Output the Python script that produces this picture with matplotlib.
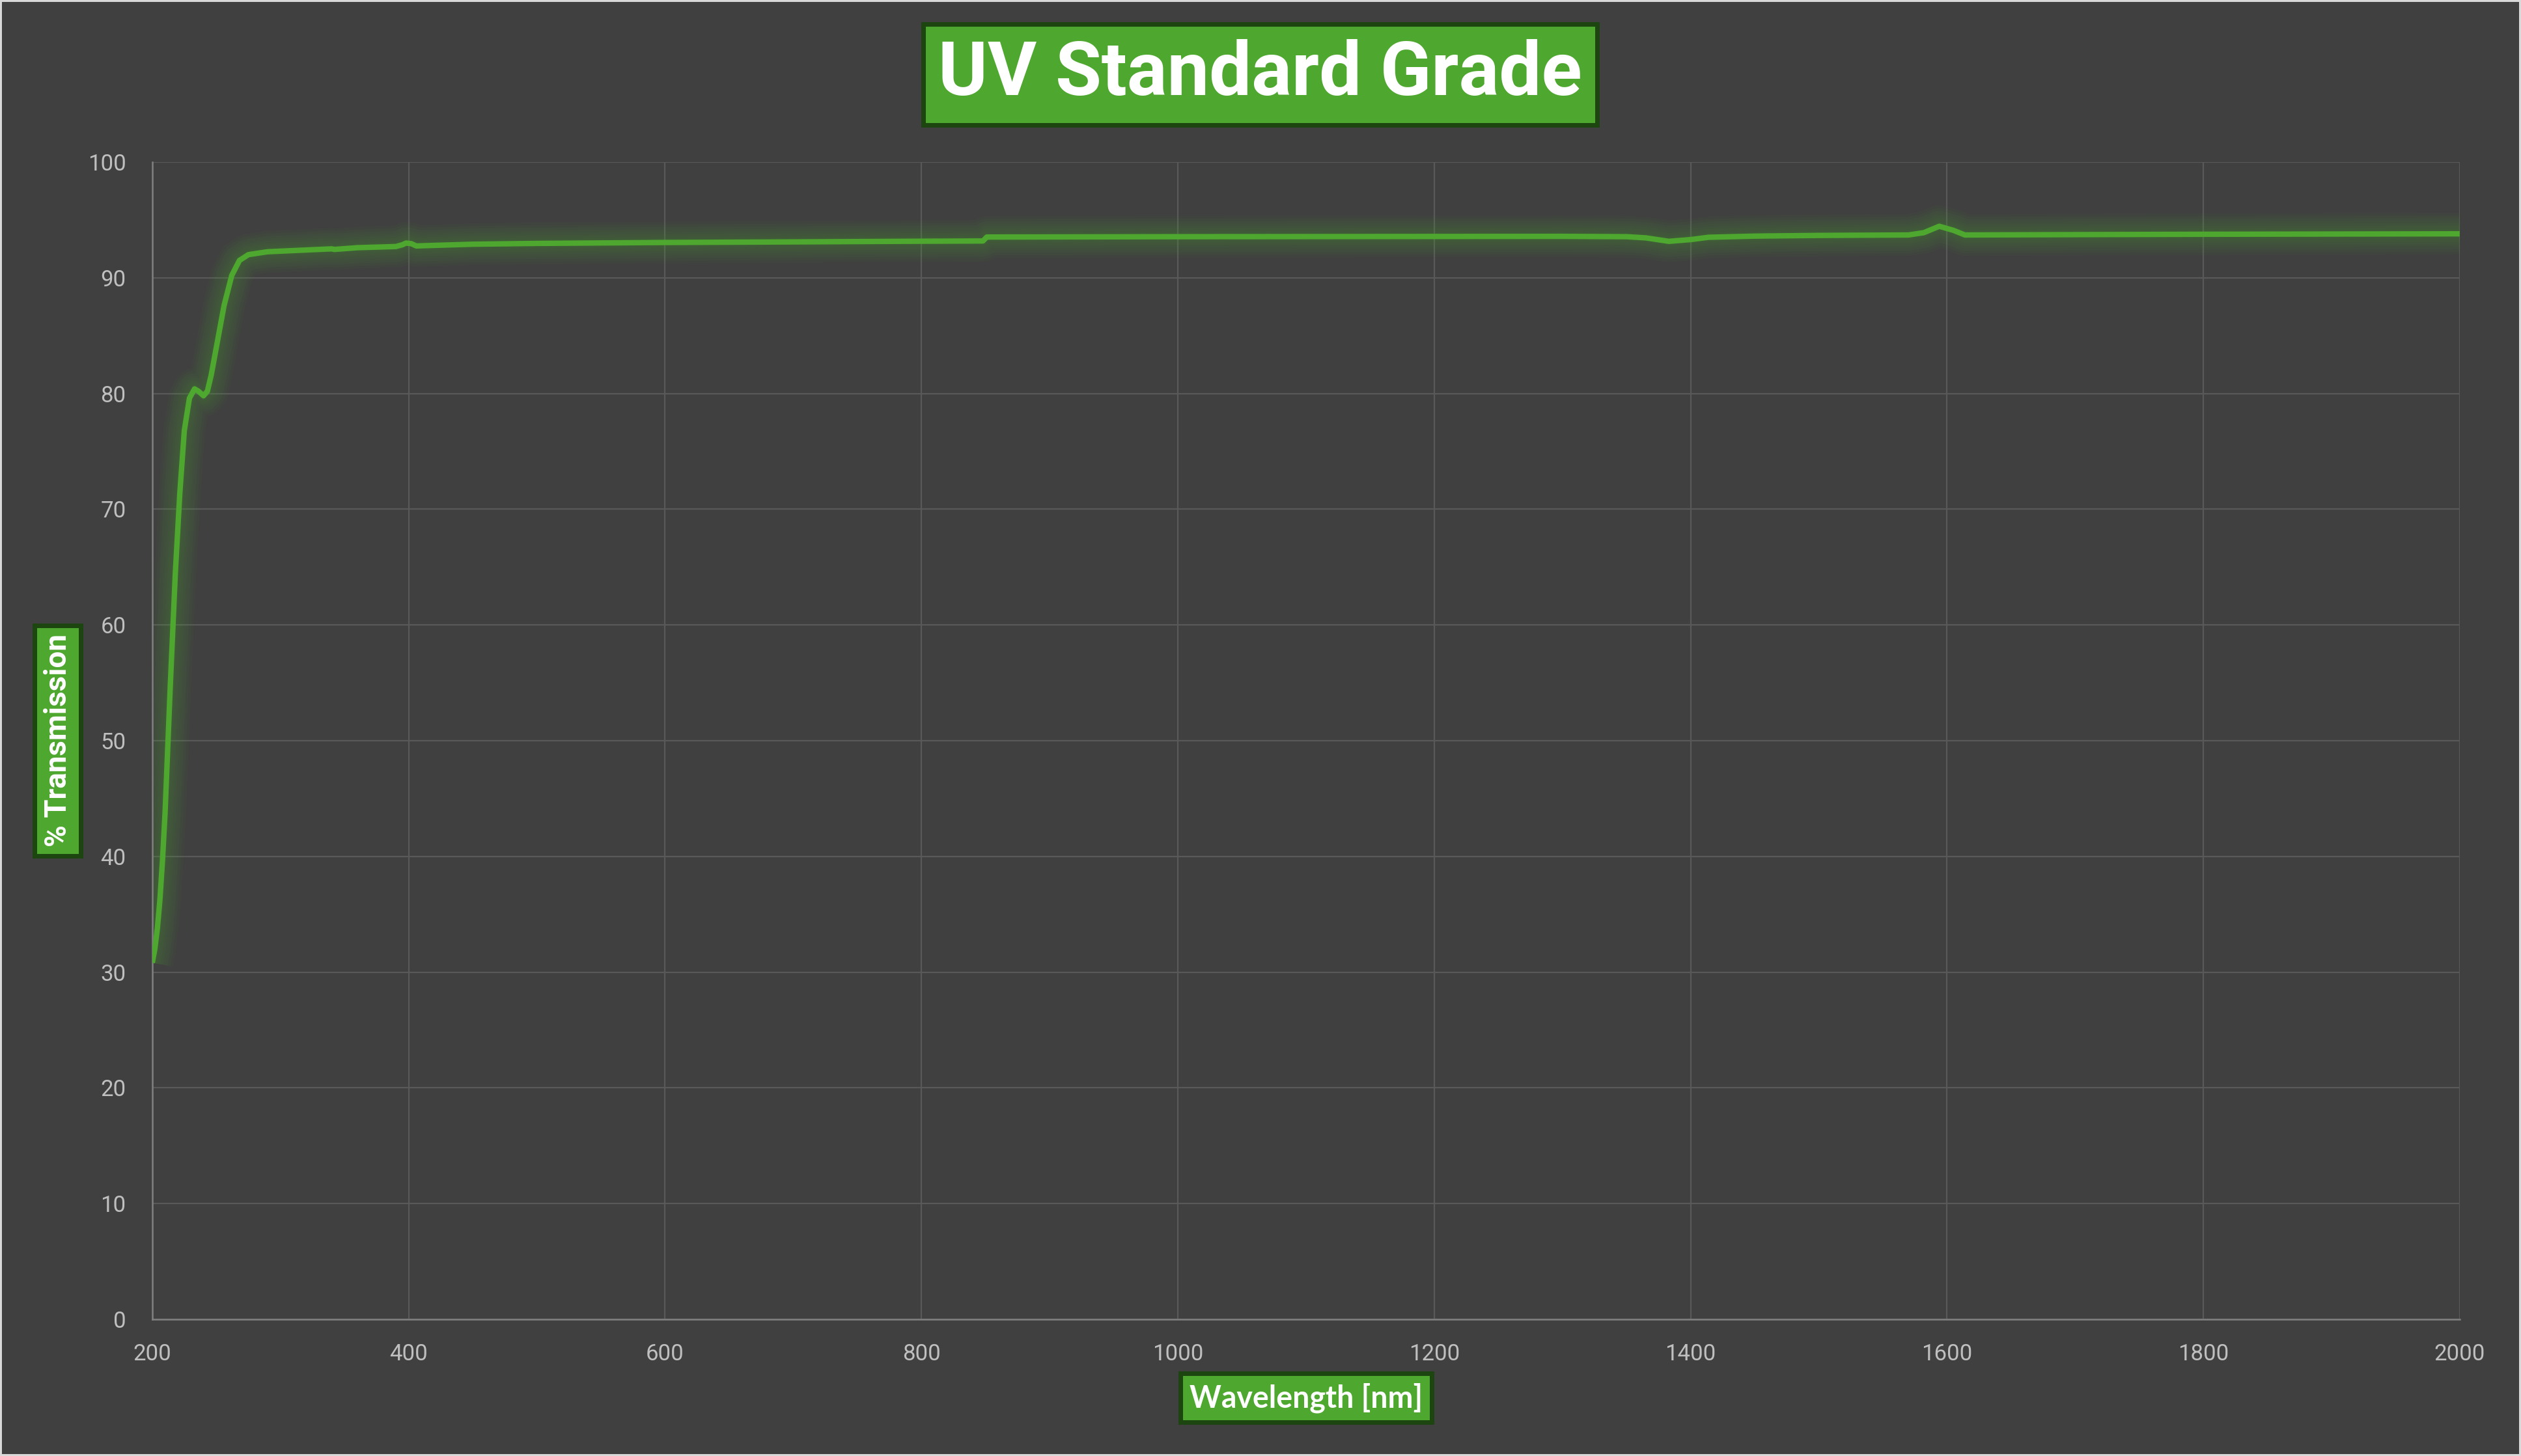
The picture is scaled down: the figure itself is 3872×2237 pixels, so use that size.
import matplotlib
matplotlib.use("Agg")
import matplotlib.pyplot as plt
from matplotlib.patches import Rectangle

# transmission curve (nm, %T)
wavelength = [200, 202, 204, 206, 208, 210, 214, 218, 221.5, 225, 229, 233, 236, 240, 243, 246,
              250, 256, 262, 268, 275, 290, 320, 340, 342, 360, 390, 395, 398, 402,
              406, 420, 450, 500, 600, 700, 800, 848, 851, 900, 1000, 1100, 1200,
              1300, 1350, 1365, 1383, 1400, 1414, 1450, 1500, 1570, 1582, 1594, 1605,
              1614, 1700, 1800, 1900, 2000]
transmission = [30.8, 32.0, 33.8, 36.3, 39.7, 43.8, 54.6, 64.5, 71.4, 76.8, 79.6, 80.4, 80.2, 79.8, 80.2, 81.6,
                84.0, 87.6, 90.2, 91.5, 92.0, 92.25, 92.4, 92.5, 92.45, 92.6, 92.7, 92.85, 93.0, 92.95,
                92.75, 92.8, 92.9, 92.97, 93.05, 93.1, 93.16, 93.18, 93.52, 93.53, 93.55, 93.56, 93.57,
                93.58, 93.55, 93.45, 93.15, 93.3, 93.5, 93.6, 93.66, 93.7, 93.9, 94.45, 94.1,
                93.7, 93.73, 93.76, 93.78, 93.8]

x_ticks = [200, 400, 600, 800, 1000, 1200, 1400, 1600, 1800, 2000]
y_ticks = [0, 10, 20, 30, 40, 50, 60, 70, 80, 90, 100]

title = "UV Standard Grade"
x_title = "Wavelength [nm]"
y_title = "% Transmission"

bg = "#404040"
green = "#4ea72e"
dark_green = "#1c4510"

fig = plt.figure(figsize=(38.72, 22.37), dpi=100, facecolor=bg)
ax = fig.add_axes([0.0604, 0.0939, 0.9153, 0.7948])
ax.set_facecolor(bg)

# soft glow under the line
for w in [64, 56, 48, 40, 33, 26, 20, 14]:
    ax.plot(wavelength, transmission, color=green, lw=w * 0.72, alpha=0.045,
            solid_capstyle="butt", solid_joinstyle="round")
ax.plot(wavelength, transmission, color=green, lw=6,
        solid_capstyle="butt", solid_joinstyle="round", zorder=5)

ax.set_xlim(200, 2000)
ax.set_ylim(0, 100)
ax.set_xticks(x_ticks)
ax.set_yticks(y_ticks)
ax.grid(True, color="#595959", lw=1.6)
ax.set_axisbelow(True)
ax.tick_params(length=0, colors="#bfbfbf", labelsize=25)
ax.tick_params(axis="x", pad=27)
ax.tick_params(axis="y", pad=29)
for lab in ax.get_xticklabels() + ax.get_yticklabels():
    lab.set_fontfamily(["Roboto", "DejaVu Sans"])

for side in ["top", "right"]:
    ax.spines[side].set_visible(False)
for side in ["left", "bottom"]:
    ax.spines[side].set_color("#808080")
    ax.spines[side].set_linewidth(1.8)

fig.text(0.4999, 0.949, title, ha="center", va="center", color="white",
         fontsize=83, fontweight="bold", family=["Roboto", "DejaVu Sans"],
         bbox=dict(boxstyle="square,pad=0.2", fc=green, ec=dark_green, lw=5))
fig.text(0.0229, 0.4913, y_title, ha="center", va="center", rotation=90, color="white",
         fontsize=33, fontweight="bold", family=["Roboto", "DejaVu Sans"],
         bbox=dict(boxstyle="square,pad=0.3", fc=green, ec=dark_green, lw=5))
fig.text(0.518, 0.040, x_title, ha="center", va="center", color="white",
         fontsize=33.5, fontweight="bold", family=["Lato", "DejaVu Sans"],
         bbox=dict(boxstyle="square,pad=0.3", fc=green, ec=dark_green, lw=5))

# light outer frame
fig.patches.append(Rectangle((0, 0), 1, 1, transform=fig.transFigure, fill=False,
                             ec="#d9d9d9", lw=4.3))

fig.savefig("out.png", dpi=100, facecolor=bg)
